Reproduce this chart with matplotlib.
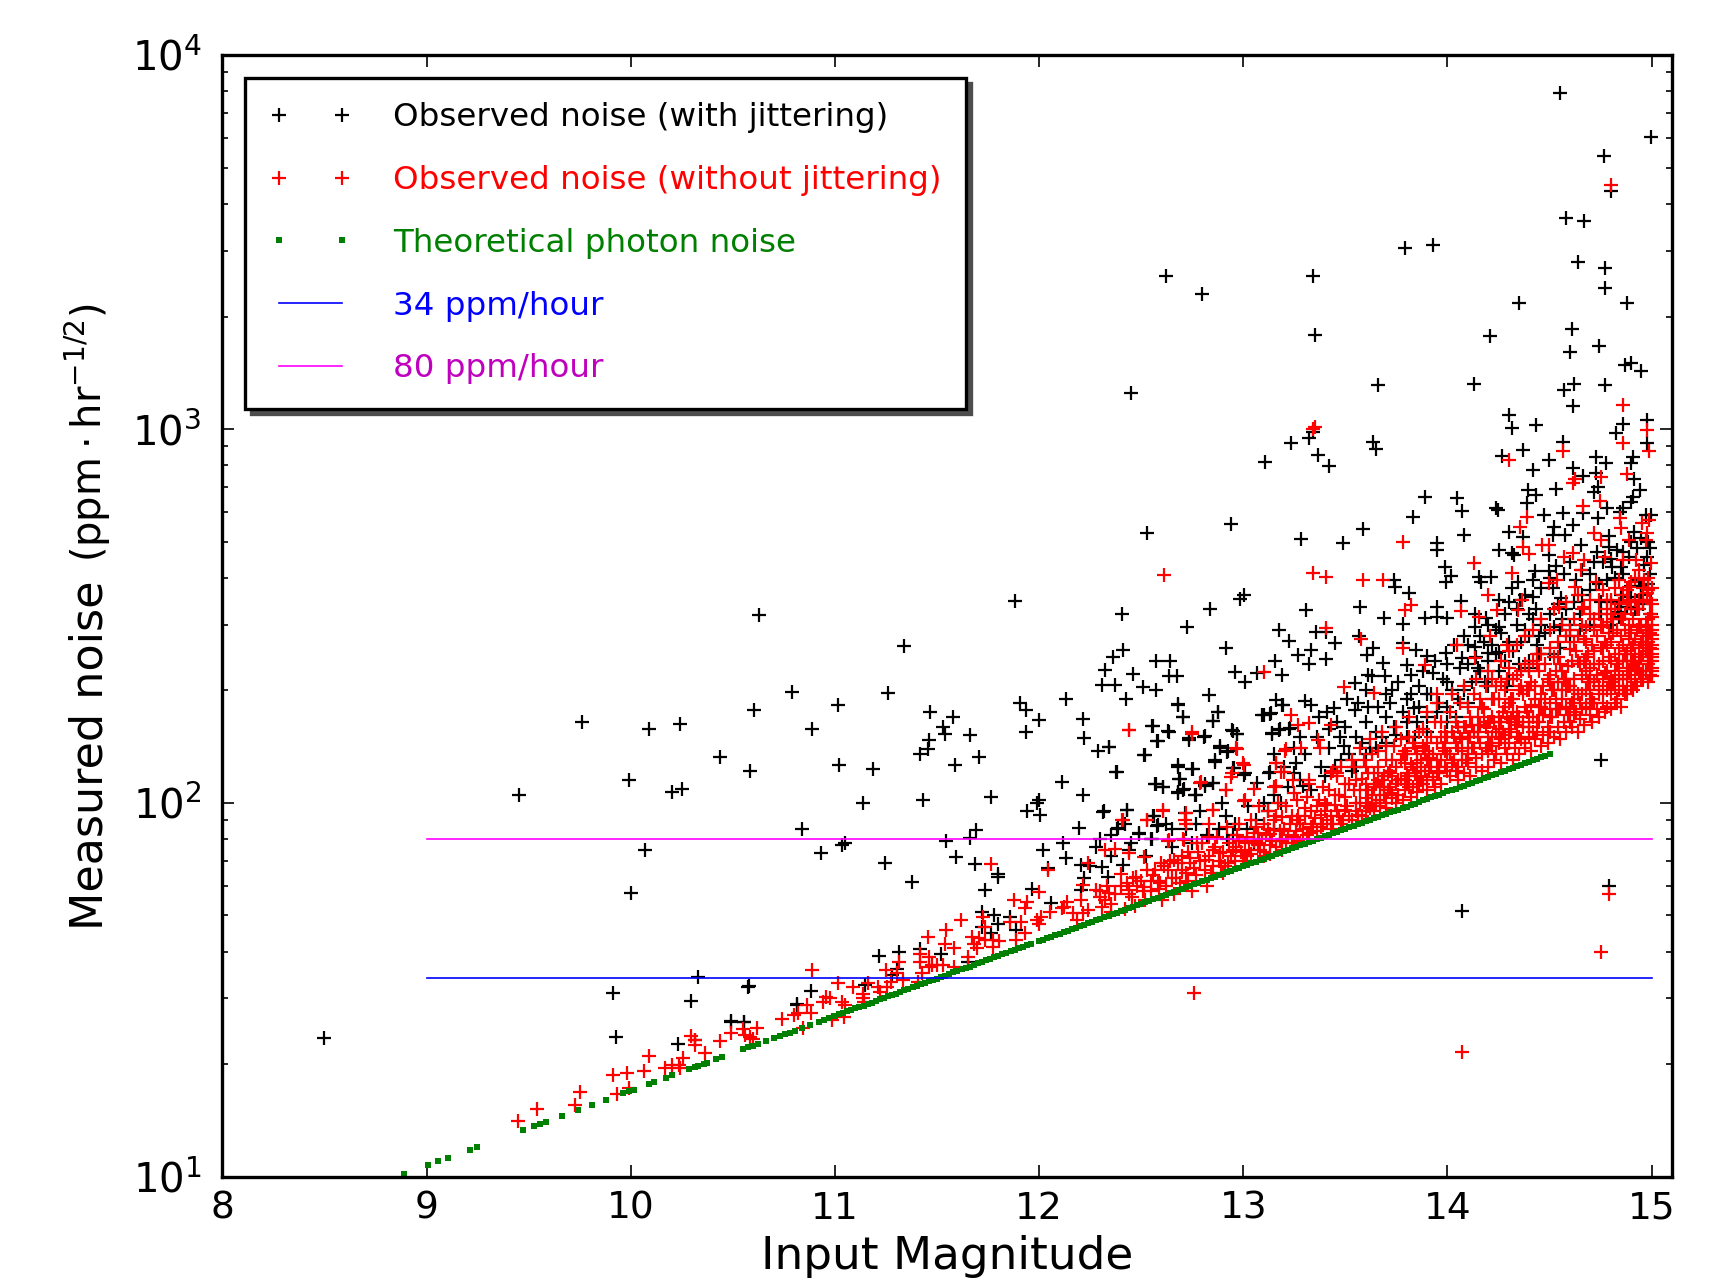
"""Measured noise against input magnitude, with and without jittering."""
import matplotlib
matplotlib.use("Agg")
import matplotlib.pyplot as plt
import numpy as np

# values as (magnitude, noise)
jitter_points = [
    (8.497, 23.5), (9.45, 105), (9.76, 165), (9.99, 115), (10.0, 57.5), (10.07, 75), (10.09, 158), (10.2, 107),
    (10.24, 163), (10.25, 109), (10.63, 318), (10.79, 198), (9.911, 31), (9.929, 23.6), (10.294, 29.5),
    (10.329, 34.3), (10.576, 32.2), (10.491, 26.1), (10.556, 26), (10.314, 23.2), (10.231, 22.6), (10.816, 28.8),
    (10.605, 177), (11.014, 183), (11.467, 175), (11.58, 170), (11.53, 160), (11.54, 153), (10.888, 158),
    (11.463, 147), (11.454, 139), (11.417, 135), (11.66, 152), (11.707, 133), (11.589, 126), (11.02, 126),
    (11.188, 123), (10.438, 133), (10.586, 122), (11.904, 185), (11.937, 177), (11.997, 167), (11.936, 155),
    (12.213, 168), (12.219, 149), (12.288, 138), (12.344, 141), (12.517, 134), (12.556, 161), (12.635, 155),
    (12.582, 146), (12.682, 183), (12.704, 170), (12.85, 166), (12.878, 175), (12.809, 150), (12.734, 147),
    (12.944, 157), (12.968, 153), (13.14, 153), (13.094, 172), (13.131, 173), (13.178, 158), (13.225, 158),
    (13.188, 183), (12.888, 140), (12.921, 137), (12.86, 129), (12.378, 121), (12.682, 125), (12.691, 116),
    (12.753, 123), (12.953, 124), (13.01, 120), (13.131, 121), (12.11, 113.5), (12.213, 105), (11.763, 103.5),
    (11.998, 102), (11.988, 100), (11.432, 102), (11.135, 100), (11.941, 95), (12.003, 92.7), (12.312, 94.6),
    (12.428, 95.7), (12.569, 112), (12.607, 110), (12.682, 106), (12.71, 109), (12.766, 105), (12.813, 111),
    (12.85, 113), (12.56, 92), (12.582, 87.3), (12.194, 85.5), (12.382, 85), (12.49, 82.8), (12.55, 80),
    (10.84, 85), (11.692, 84.5), (11.66, 80.4), (11.544, 79), (11.047, 78), (11.032, 77), (10.933, 73.6),
    (11.244, 69), (11.591, 71.7), (11.685, 68.6), (11.375, 61.5), (12.02, 74.8), (12.116, 78), (12.134, 71.4),
    (12.279, 76.4), (12.438, 74.8), (12.522, 72), (12.207, 68.2), (12.307, 67.5), (12.41, 68.3), (12.044, 66.8),
    (11.797, 64.7), (11.797, 63.4), (11.735, 58.5), (11.966, 59), (12.059, 54), (12.219, 62.8), (12.204, 58.5),
    (12.335, 63.4), (11.72, 51.2), (11.778, 50), (11.857, 49.6), (11.8, 47.4), (11.722, 46.7), (11.885, 45.7),
    (11.763, 44.8), (11.65, 37.6), (11.52, 39.4), (11.415, 40.6), (11.314, 40), (11.216, 38.9), (11.305, 36),
    (11.277, 34.6), (11.145, 32.6), (10.579, 32.4), (10.882, 31.3), (10.813, 29), (10.493, 25.9), (10.555, 25.9),
    (14.55, 7940), (14.998, 6050), (14.766, 5380), (14.8, 4330), (14.58, 3660), (14.67, 3600), (13.79, 3060),
    (13.93, 3100), (14.64, 2800), (14.77, 2690), (14.77, 2380), (14.88, 2170), (14.35, 2180), (13.34, 2570),
    (12.62, 2570), (12.8, 2300), (13.35, 1780), (14.21, 1770), (14.61, 1855), (14.6, 1610), (14.74, 1670),
    (14.87, 1480), (14.9, 1500), (14.95, 1430), (14.13, 1318), (14.62, 1318), (12.45, 1250), (13.66, 1310),
    (14.57, 1275), (14.77, 1310), (14.617, 1153), (14.07, 51.5), (14.79, 59.8), (14.753, 130),
    (13.235, 916), (13.32, 944), (13.367, 853), (13.421, 796), (13.104, 815), (13.635, 925), (13.648, 883),
    (14.3, 1091), (14.318, 1005), (14.436, 1026), (14.861, 1032), (14.979, 1057), (14.825, 975), (14.979, 916),
    (14.568, 925), (14.369, 879), (14.269, 847), (14.499, 826), (14.421, 778), (14.617, 785), (14.729, 841),
    (14.776, 811), (14.907, 844), (14.898, 811), (14.726, 765), (14.662, 747), (14.916, 735), (14.735, 699),
    (14.717, 680), (14.532, 692), (14.943, 687), (14.394, 687), (14.436, 666), (14.39, 634), (14.907, 659),
    (14.898, 640), (14.861, 614), (14.843, 601), (14.78, 614), (14.97, 589), (14.997, 589), (14.735, 577),
    (14.568, 595), (14.662, 595), (14.472, 589), (14.24, 614), (14.247, 608), (14.046, 653), (14.07, 605),
    (13.892, 659), (13.832, 581), (13.584, 539), (13.49, 495), (13.285, 508), (12.941, 557), (12.53, 526),
    (14.303, 529), (14.079, 521), (14.372, 514), (14.523, 548), (14.517, 521), (14.617, 555), (14.577, 521),
    (14.789, 516), (14.916, 532), (13.947, 495), (13.947, 476), (14.251, 476), (14.318, 465), (14.327, 460),
    (14.499, 460), (14.653, 490), (14.789, 485), (14.889, 456), (14.979, 456), (14.717, 442), (14.807, 428),
    (14.852, 428), (14.961, 433), (14.427, 416), (14.495, 416), (13.986, 428), (14.019, 404), (13.992, 391),
    (14.155, 403), (14.215, 403), (14.164, 391), (13.738, 395), (13.742, 379), (14.345, 391), (14.318, 375),
    (14.517, 375), (13.004, 360), (12.986, 352), (13.811, 365), (14.254, 349), (14.354, 349), (14.421, 356),
    (14.554, 353), (14.064, 346), (14.997, 349), (12.407, 320), (12.836, 330), (13.309, 328), (13.57, 335),
    (13.95, 334), (14.137, 321), (14.191, 312), (14.399, 321), (14.436, 330), (14.834, 325), (14.997, 321),
    (12.724, 296), (13.687, 312), (13.892, 313), (13.947, 314), (13.997, 313), (13.783, 301), (14.137, 296),
    (14.254, 295), (13.173, 290), (13.222, 271), (13.403, 287), (13.358, 287), (13.566, 280), (13.448, 267),
    (12.914, 259), (12.41, 257), (12.361, 245), (13.334, 257), (13.267, 248), (13.407, 242), (13.322, 235),
    (13.783, 267), (13.633, 259), (13.606, 249), (13.847, 256), (13.901, 247), (13.992, 251), (14.073, 244),
    (14.137, 262), (14.2, 251), (14.254, 254), (12.57, 239), (12.642, 239), (13.153, 239), (13.684, 237),
    (13.802, 234), (12.325, 227), (12.461, 221), (12.637, 219), (12.673, 219), (12.959, 224), (13.008, 211),
    (13.189, 220), (13.068, 222), (13.611, 220), (13.63, 218), (13.693, 218), (13.82, 220), (13.928, 222),
    (14.0, 211), (14.182, 211), (14.291, 205), (12.307, 207), (12.374, 207), (12.51, 204), (12.57, 201),
    (13.548, 209), (13.729, 200), (13.82, 196), (13.901, 196), (12.832, 194), (12.425, 190), (13.508, 190),
    (12.682, 184), (13.158, 188), (13.195, 183), (13.303, 187), (13.331, 183), (13.611, 181), (13.443, 179),
    (13.548, 177), (13.838, 179), (12.878, 175), (12.706, 170), (12.851, 166), (13.099, 172), (13.135, 174),
    (13.37, 170), (12.555, 161), (12.633, 156), (13.177, 157), (13.231, 159), (13.14, 154), (12.95, 156),
    (12.968, 153), (12.811, 151), (12.733, 149), (12.579, 146), (12.343, 141), (12.887, 142), (12.923, 138),
    (13.421, 158), (13.476, 150), (13.494, 142), (12.515, 134), (12.86, 130), (13.258, 128), (12.678, 126),
    (12.751, 123), (12.687, 116), (12.38, 121), (12.95, 124), (13.005, 119), (13.128, 120), (13.249, 120),
    (13.53, 122), (13.068, 113), (12.57, 112), (12.606, 110), (12.678, 107), (12.706, 108), (12.765, 105),
    (12.814, 112), (12.851, 113), (13.294, 111), (12.32, 95), (12.428, 96), (12.787, 95), (12.914, 92),
    (12.715, 94), (12.561, 92), (12.579, 87), (12.385, 85.5), (12.488, 83), (12.552, 80), (12.896, 100),
    (13.023, 98), (13.186, 100), (11.26, 197), (11.34, 263), (11.88, 347), (12.13, 190), (13.34, 985),
]

jitter_band_points = [
    (13.65, 140), (13.7, 170), (13.75, 152), (13.85, 165), (13.95, 175), (14.05, 190), (14.15, 230), (14.25, 225),
    (14.35, 235), (14.45, 250), (14.55, 290), (14.65, 320), (14.75, 345), (14.85, 360), (14.95, 380), (14.99, 410),
    (13.2, 125), (13.3, 135), (13.38, 125), (13.42, 140), (13.48, 130), (13.55, 150), (13.6, 165), (13.65, 155),
    (13.72, 185), (13.78, 175), (13.86, 205), (13.92, 195), (13.98, 215), (14.02, 200), (14.06, 230), (14.1, 235),
    (14.14, 245), (14.18, 270), (14.22, 265), (14.26, 285), (14.3, 270), (14.34, 300), (14.38, 290), (14.42, 310),
    (14.46, 300), (14.5, 320), (14.54, 340), (14.58, 330), (14.62, 345), (14.66, 360), (14.7, 370), (14.74, 385),
    (14.78, 395), (14.82, 400), (14.86, 410), (14.9, 380), (14.94, 395), (14.98, 385), (14.96, 340), (14.92, 330),
    (14.88, 335), (14.84, 315), (14.8, 300), (13.1, 100), (13.15, 105), (13.22, 110), (13.28, 115), (13.33, 108),
    (13.4, 118), (13.45, 125), (13.52, 135), (13.58, 145), (13.62, 140), (13.68, 150), (13.74, 160), (13.8, 165),
    (13.84, 150), (13.9, 170), (13.96, 185), (14.0, 180), (14.04, 170), (14.08, 200), (14.12, 210), (14.16, 225),
    (14.2, 240), (14.24, 250), (14.28, 240), (14.32, 255), (14.36, 270), (14.4, 280), (14.44, 265), (14.48, 285),
    (14.52, 295), (14.56, 310), (14.6, 300), (12.3, 80), (12.35, 82), (12.42, 88), (12.62, 88), (12.65, 85),
    (12.72, 85), (12.77, 88), (12.82, 82), (12.88, 85), (12.92, 80), (12.96, 88), (13.02, 85), (13.06, 90),
    (13.12, 95),
    (13.15, 135), (13.25, 140), (13.28, 150), (13.36, 150), (13.41, 175), (13.46, 165), (13.5, 160), (13.56, 185),
    (13.6, 200), (13.66, 180), (13.7, 195), (13.76, 210), (13.8, 190), (13.86, 180), (13.88, 225), (13.94, 240),
    (14.0, 235), (14.03, 265), (14.08, 280), (14.1, 265), (14.16, 280), (14.2, 300), (14.24, 290), (14.28, 320),
    (14.3, 345), (14.34, 330), (14.38, 360), (14.42, 395), (14.46, 375), (14.5, 400), (14.53, 430), (14.57, 410),
    (14.6, 440), (14.63, 395), (14.66, 420), (14.7, 410), (14.73, 470), (14.76, 440), (14.8, 450), (14.83, 475),
    (14.86, 470), (14.9, 500), (14.93, 480), (14.95, 510), (14.98, 500), (14.99, 480), (14.4, 230), (14.45, 280),
    (14.5, 250), (14.55, 260), (14.6, 280), (14.65, 290), (14.7, 300), (14.75, 320), (14.8, 345), (14.85, 335),
    (14.9, 355), (14.95, 360), (13.55, 125), (13.6, 135), (13.7, 145), (13.8, 150), (13.9, 155), (14.0, 165),
    (14.1, 185), (14.2, 205), (14.3, 215), (14.4, 240), (12.95, 82), (13.05, 78), (13.15, 85), (12.75, 78),
    (12.65, 76), (12.45, 78), (12.35, 72), (12.25, 68),
]

no_jitter_points = [
    (14.8, 4500), (13.34, 1000), (13.35, 1010), (14.861, 1161), (14.976, 995), (14.861, 920), (14.988, 871),
    (14.566, 871), (14.3, 829), (14.88, 759), (14.753, 746), (14.626, 734), (14.613, 716), (14.662, 622),
    (14.749, 642), (14.39, 581), (14.354, 548), (14.843, 577), (14.852, 543), (14.952, 562), (14.988, 571),
    (14.976, 526), (14.97, 505), (14.717, 526), (14.753, 505), (14.889, 505), (13.784, 500), (14.372, 485),
    (14.399, 464), (14.463, 490), (14.499, 490), (14.572, 456), (14.617, 466), (14.671, 447), (14.653, 420),
    (14.771, 456), (14.861, 447), (14.925, 447), (14.997, 438), (14.131, 438), (12.61, 407), (13.343, 411),
    (13.403, 402), (13.584, 394), (13.684, 394), (14.318, 413), (14.2, 360), (14.535, 394), (14.499, 387),
    (14.626, 379), (14.726, 391), (14.889, 379), (14.961, 394), (13.82, 339), (13.793, 328), (14.064, 327),
    (14.363, 349), (14.245, 328), (14.345, 328), (14.155, 315), (14.544, 335), (14.671, 335), (14.78, 349),
    (14.889, 349), (14.979, 364), (13.403, 293), (13.575, 275), (13.783, 259), (14.046, 265), (14.137, 244),
    (14.209, 279), (14.291, 265), (13.099, 224), (13.494, 204), (13.639, 197), (13.892, 234), (13.95, 195),
    (12.439, 157), (13.236, 172), (12.751, 155), (12.968, 139), (13.209, 139), (13.285, 140), (13.367, 147),
    (13.376, 140), (13.322, 164), (13.267, 162), (13.43, 162), (13.158, 128), (13.005, 126), (12.941, 117),
    (12.914, 108), (13.186, 121), (12.787, 113), (13.05, 109), (13.158, 111), (13.322, 115), (13.439, 122),
    (13.457, 120), (12.851, 96), (12.715, 90), (12.606, 95), (12.53, 90), (12.407, 90), (13.005, 101),
    (13.077, 98), (12.633, 79), (12.706, 80), (12.76, 31), (14.07, 21.5), (14.79, 57), (14.75, 40),
    (9.449, 14.1), (9.539, 15.2), (9.727, 15.6), (9.752, 16.8), (9.932, 16.6), (9.989, 17.3), (9.912, 18.7),
    (9.979, 19), (10.066, 19.2), (10.089, 21), (10.166, 19.5), (10.204, 19.9), (10.234, 19.9), (10.239, 19.5),
    (10.254, 20.8), (10.294, 23.8), (10.316, 23.2), (10.314, 22.5), (10.361, 21.4), (10.436, 23), (10.489, 24.2),
    (10.551, 24.8), (10.559, 23.9), (10.584, 23.6), (10.597, 23.4), (10.619, 25), (10.742, 26.4), (10.798, 27),
    (10.817, 27.4), (10.882, 27.4), (10.864, 28.8), (10.841, 25), (10.986, 26.2), (11.042, 26.8), (10.888, 35.7),
    (11.014, 33), (11.089, 32.2), (10.957, 30.3), (10.939, 29.4), (10.976, 30), (11.032, 29.4), (11.047, 28.8),
    (11.135, 30.9), (11.135, 30), (11.141, 29.4), (11.164, 32.9), (11.21, 32.2), (11.22, 31.2), (11.257, 32.2),
    (11.248, 35.8), (11.313, 37.6), (11.304, 35), (11.276, 33.2), (11.332, 33.6), (11.417, 39.5), (11.417, 37.6),
    (11.463, 38.7), (11.426, 35), (11.407, 33.2), (11.473, 36.8), (11.501, 36.8), (11.529, 36.8), (11.463, 36.5),
    (11.458, 43.7), (11.544, 45.8), (11.538, 41.9), (11.585, 40.8), (11.585, 36.5), (11.619, 48.5), (11.651, 38.7),
    (11.679, 42), (11.67, 43.9), (11.707, 43.4), (11.735, 42.9), (11.773, 42.9), (11.801, 42.8), (11.773, 41.2),
    (11.698, 40.8), (11.735, 46.7), (11.726, 49.6), (11.763, 68.6), (11.876, 55), (11.857, 48), (11.941, 54.3),
    (11.932, 52.3), (11.913, 48), (11.932, 44.8), (11.885, 42.9), (11.998, 57.8), (11.988, 48.5), (12.007, 49.5),
    (11.998, 47.5), (12.054, 51.2), (12.044, 66), (12.11, 52.2), (12.138, 54.3), (12.12, 52.7), (12.166, 50.6),
    (12.185, 48.5), (12.213, 50.6), (12.241, 51.6), (12.204, 55), (12.213, 60.3), (12.241, 68.9), (12.279, 58.5),
    (12.297, 56.1), (12.325, 55), (12.344, 57.3), (12.307, 52.7), (12.354, 53.8), (12.325, 74.8), (12.372, 75.5),
    (12.438, 73.3), (12.513, 71.8), (12.41, 90), (12.438, 157), (12.528, 90), (12.606, 95.7), (12.747, 153),
    (12.794, 114), (12.4, 64.7), (12.438, 58.5), (12.475, 63.4), (12.513, 59.7), (12.55, 62), (12.588, 59),
    (12.457, 56.1), (12.597, 68.9), (12.569, 66), (12.635, 79.4), (12.71, 79.4), (12.663, 70.3), (12.7, 66),
    (12.738, 68.9), (12.728, 62), (12.813, 70.3), (12.85, 74.8), (12.888, 73.3), (12.925, 68.9), (12.775, 78),
    (12.831, 81), (12.963, 76.4), (13.019, 81), (13.075, 78), (13.131, 82.8), (13.188, 91.8), (13.263, 90),
    (13.15, 84.5), (12.719, 93.8), (12.719, 88), (12.85, 95.7), (12.831, 88), (12.944, 120), (12.916, 108),
    (13.01, 101.6), (13.0, 127.6), (13.159, 127.6), (13.197, 121), (13.206, 138), (12.963, 140), (13.263, 101.6),
    (13.244, 115), (13.15, 110), (12.98, 88), (13.05, 83), (13.1, 72), (13.01, 70), (12.9, 65), (12.82, 60),
    (12.75, 58), (12.66, 57), (12.6, 55), (12.52, 55), (12.47, 53), (12.42, 52), (12.35, 51),
]

no_jitter_band_points = [
    (13.08, 75), (13.11, 82), (13.13, 77), (13.06, 86), (13.15, 90), (13.18, 79), (13.12, 95), (13.2, 85),
    (13.22, 82), (13.17, 100), (13.24, 92), (13.26, 84), (13.25, 106), (13.28, 88), (13.3, 97), (13.31, 82),
    (13.33, 86), (13.35, 91), (13.32, 112), (13.37, 102), (13.38, 86), (13.4, 95), (13.41, 90), (13.42, 108),
    (13.43, 85), (13.45, 99), (13.46, 118), (13.47, 92), (13.48, 88), (13.5, 104), (13.5, 96), (13.52, 112),
    (13.53, 90), (13.54, 125), (13.55, 100), (13.56, 93), (13.57, 108), (13.58, 116), (13.59, 130), (13.6, 95),
    (13.6, 103), (13.61, 120), (13.62, 97), (13.63, 135), (13.64, 110), (13.65, 100), (13.66, 125), (13.67, 98),
    (13.68, 115), (13.69, 105), (13.7, 100), (13.7, 130), (13.71, 120), (13.72, 110), (13.73, 103), (13.74, 142),
    (13.75, 125), (13.76, 105), (13.77, 116), (13.78, 135), (13.79, 108), (13.8, 120), (13.8, 112), (13.81, 150),
    (13.82, 127), (13.83, 110), (13.84, 140), (13.85, 118), (13.86, 112), (13.87, 130), (13.88, 158), (13.89, 122),
    (13.9, 115), (13.9, 145), (13.91, 135), (13.92, 125), (13.93, 117), (13.94, 165), (13.95, 130), (13.96, 120),
    (13.97, 150), (13.98, 140), (13.99, 125), (14.0, 122), (14.0, 135), (14.01, 175), (14.02, 155), (14.03, 130),
    (14.04, 145), (14.05, 125), (14.06, 185), (14.07, 138), (14.08, 160), (14.09, 130), (14.1, 150), (14.1, 128),
    (14.11, 170), (14.12, 140), (14.13, 195), (14.14, 132), (14.15, 155), (14.16, 145), (14.17, 135), (14.18, 178),
    (14.19, 205), (14.2, 150), (14.2, 138), (14.21, 165), (14.22, 142), (14.23, 190), (14.24, 135), (14.25, 158),
    (14.26, 148), (14.27, 175), (14.28, 140), (14.29, 215), (14.3, 165), (14.3, 145), (14.31, 155), (14.32, 190),
    (14.33, 140), (14.34, 175), (14.35, 150), (14.36, 225), (14.37, 160), (14.38, 145), (14.39, 200), (14.4, 170),
    (14.4, 150), (14.41, 183), (14.42, 155), (14.43, 148), (14.44, 235), (14.45, 165), (14.46, 195), (14.47, 152),
    (14.48, 178), (14.49, 160), (14.5, 210), (14.5, 155), (14.51, 170), (14.52, 245), (14.53, 190), (14.54, 160),
    (14.55, 178), (14.56, 225), (14.57, 165), (14.58, 200), (14.59, 172), (14.6, 258), (14.6, 165), (14.61, 185),
    (14.62, 215), (14.63, 175), (14.64, 240), (14.65, 168), (14.66, 195), (14.67, 275), (14.68, 180), (14.69, 210),
    (14.7, 172), (14.7, 230), (14.71, 190), (14.72, 255), (14.73, 178), (14.74, 205), (14.75, 295), (14.76, 185),
    (14.77, 222), (14.78, 180), (14.79, 245), (14.8, 195), (14.8, 270), (14.81, 210), (14.82, 185), (14.83, 235),
    (14.84, 200), (14.85, 310), (14.86, 215), (14.87, 195), (14.88, 255), (14.89, 225), (14.9, 205), (14.9, 285),
    (14.91, 240), (14.92, 210), (14.93, 330), (14.94, 225), (14.95, 270), (14.95, 215), (14.96, 250), (14.97, 300),
    (14.97, 225), (14.98, 235), (14.98, 270), (14.99, 220), (14.99, 350), (15.0, 245), (15.0, 290), (15.0, 265),
    (15.0, 315), (15.0, 230), (14.82, 225), (14.84, 260), (14.86, 240), (14.87, 290), (14.88, 215), (14.9, 240),
    (14.91, 265), (14.92, 250), (14.93, 228), (14.94, 295), (14.95, 245), (14.96, 280), (14.97, 255), (14.98, 310),
    (14.99, 240), (14.99, 285), (15.0, 250), (15.0, 275), (14.72, 210), (14.74, 235), (14.76, 200), (14.78, 265),
    (14.7, 200), (14.66, 220), (14.62, 190), (14.58, 180), (14.54, 210), (14.5, 185), (14.45, 180), (14.4, 200),
    (14.35, 170), (14.3, 185), (14.25, 170), (14.2, 165), (14.15, 170), (14.1, 140), (14.05, 160), (14.0, 150),
    (13.95, 145), (13.9, 130), (13.85, 128), (13.8, 135),
    (12.43, 61), (12.46, 63), (12.5, 62), (12.53, 66), (12.56, 64), (12.58, 62), (12.61, 68), (12.63, 66),
    (12.65, 63), (12.68, 69), (12.7, 72), (12.72, 65), (12.74, 71), (12.76, 67), (12.78, 74), (12.79, 70),
    (12.81, 66), (12.83, 72), (12.85, 68), (12.86, 76), (12.88, 70), (12.9, 74), (12.91, 68), (12.93, 78),
    (12.94, 72), (12.96, 70), (12.97, 82), (12.99, 74), (13.0, 72), (13.01, 78), (13.03, 75), (13.04, 73),
    (13.05, 79), (13.07, 77), (13.09, 80), (13.1, 74), (13.12, 85), (13.14, 79), (13.16, 76), (13.18, 84),
    (13.19, 80), (13.21, 78), (13.23, 88), (13.25, 81), (13.27, 79), (13.29, 85), (13.3, 92), (13.32, 83),
    (13.34, 88), (13.36, 84), (13.38, 93), (13.39, 88), (13.41, 99), (13.43, 92), (13.44, 88), (13.46, 95),
    (13.47, 105), (13.49, 90), (13.51, 98), (13.52, 92), (13.54, 108), (13.55, 95), (13.57, 100), (13.58, 92),
    (13.6, 112), (13.61, 98), (13.63, 105), (13.64, 95), (13.66, 115), (13.67, 102), (13.69, 110), (13.7, 97),
    (13.72, 122), (13.73, 106), (13.75, 100), (13.76, 115), (13.78, 102), (13.79, 128), (13.81, 110), (13.82, 104),
    (13.84, 120), (13.85, 107), (13.87, 125), (13.88, 112), (13.9, 108), (13.91, 132), (13.93, 115), (13.94, 110),
    (13.96, 125), (13.97, 112), (13.99, 138), (14.01, 118), (14.02, 128), (14.04, 122), (14.05, 115), (14.07, 148),
    (14.08, 120), (14.1, 135), (14.11, 118), (14.13, 155), (14.14, 125), (14.16, 162), (14.17, 122), (14.19, 140),
    (14.2, 125), (14.22, 170), (14.23, 130), (14.25, 145), (14.26, 128), (14.28, 180), (14.29, 135), (14.31, 168),
    (14.32, 130), (14.34, 150), (14.35, 135), (14.37, 195), (14.38, 140), (14.4, 160), (14.41, 138), (14.43, 205),
    (14.44, 155), (14.46, 142), (14.47, 172), (14.49, 145), (14.5, 220), (14.52, 150), (14.53, 178), (14.55, 148),
    (14.56, 200), (14.58, 155), (14.59, 232), (14.61, 160), (14.62, 200), (14.64, 155), (14.65, 185), (14.67, 162),
    (14.68, 245), (14.7, 185), (14.71, 165), (14.73, 220), (14.74, 170), (14.76, 260), (14.77, 175), (14.79, 210),
    (14.8, 178), (14.81, 285), (14.83, 190), (14.84, 215), (14.85, 180), (14.87, 250), (14.88, 195), (14.89, 275),
    (14.91, 200), (14.92, 235), (14.93, 205), (14.94, 350), (14.96, 215), (14.97, 270), (14.98, 210), (14.99, 320),
    (15.0, 218), (15.0, 300), (15.0, 240),
    (14.22, 150), (14.24, 155), (14.26, 165), (14.28, 152), (14.3, 158), (14.32, 175), (14.34, 162), (14.36, 148),
    (14.38, 180), (14.4, 160), (14.42, 170), (14.44, 165), (14.46, 180), (14.48, 190), (14.5, 170), (14.52, 200),
    (14.54, 178), (14.56, 190), (14.58, 215), (14.6, 180), (14.6, 205), (14.62, 172), (14.64, 195), (14.66, 178),
    (14.68, 200), (14.68, 225), (14.7, 215), (14.72, 185), (14.72, 235), (14.74, 195), (14.76, 215), (14.76, 240),
    (14.78, 200), (14.78, 225), (14.8, 215), (14.8, 240), (14.82, 205), (14.82, 250), (14.84, 220), (14.84, 240),
    (14.86, 200), (14.86, 265), (14.88, 230), (14.88, 240), (14.9, 220), (14.9, 260), (14.92, 230), (14.92, 275),
    (14.94, 240), (14.94, 260), (14.96, 225), (14.96, 265), (14.98, 250), (14.98, 290), (15.0, 225), (15.0, 258),
    (15.0, 282), (14.99, 260), (14.97, 285), (14.95, 300), (14.93, 290), (14.91, 310), (14.89, 300), (14.87, 320),
    (14.85, 280), (14.83, 290), (14.81, 310), (14.79, 285), (14.77, 270), (14.75, 260), (14.73, 280), (14.71, 265),
    (14.69, 250), (14.67, 240), (14.65, 235), (14.63, 255), (14.61, 240), (14.59, 205), (14.57, 215), (14.55, 235),
    (14.53, 225), (14.51, 200), (14.49, 215), (14.47, 205), (14.45, 225), (14.43, 190), (14.41, 210), (14.39, 175),
    (14.37, 165), (14.35, 200), (14.33, 165), (14.31, 190), (14.29, 170), (14.27, 155), (14.25, 190), (14.23, 165),
    (14.21, 145), (14.19, 160), (14.17, 180), (14.15, 150), (14.13, 140), (14.11, 150), (14.09, 160), (14.07, 130),
    (14.05, 140), (14.03, 150), (14.01, 135), (13.99, 145), (13.97, 130), (13.95, 120), (13.93, 135), (13.91, 122),
    (13.89, 138), (13.87, 115), (13.85, 135), (13.83, 125), (13.81, 118), (13.79, 115), (13.77, 130), (13.75, 112),
    (13.73, 118), (13.71, 108), (13.69, 118), (13.67, 110), (13.65, 112), (13.63, 100), (13.61, 108),
    (14.62, 310), (14.66, 330), (14.7, 320), (14.74, 350), (14.78, 330), (14.82, 375), (14.86, 360), (14.9, 390),
    (14.94, 420), (14.98, 400), (14.96, 375), (14.92, 350), (14.88, 345), (14.84, 340), (14.8, 320), (14.76, 300),
    (14.72, 310), (14.68, 295), (14.64, 280), (14.58, 280), (14.54, 270), (14.5, 260), (14.46, 250), (14.42, 240),
    (14.38, 235), (14.34, 220), (14.3, 230), (14.26, 210), (14.22, 215),
    (12.3, 58), (12.33, 60), (12.37, 57), (12.4, 60), (12.44, 57), (12.48, 60), (12.51, 58), (12.55, 58),
    (12.59, 61), (12.62, 60), (12.64, 70), (12.67, 63), (12.69, 61), (12.73, 74), (12.77, 64), (12.8, 78),
    (12.84, 65), (12.87, 81), (12.89, 68), (12.92, 86), (12.95, 75), (12.98, 79), (13.02, 72), (13.04, 90),
    (13.07, 83), (13.1, 88), (13.13, 73), (13.16, 92), (13.19, 75), (13.21, 98), (13.24, 78), (13.27, 92),
    (13.29, 80), (13.31, 104), (13.33, 95), (13.36, 98), (13.39, 110), (13.4, 100), (13.43, 120), (13.45, 105),
    (13.48, 125), (13.5, 112), (13.53, 130), (13.55, 115), (13.57, 140), (13.6, 125), (13.62, 148), (13.64, 120),
    (13.66, 138), (13.68, 155), (13.7, 142), (13.73, 130), (13.75, 160), (13.77, 148), (13.79, 138), (13.81, 170),
    (13.83, 145), (13.86, 155), (13.88, 142), (13.9, 175), (13.92, 150), (13.95, 185), (13.97, 165), (13.99, 155),
    (14.02, 195), (14.04, 165), (14.06, 150), (14.08, 205), (14.1, 180), (14.12, 162), (14.14, 215), (14.16, 190),
    (14.18, 165), (14.2, 225), (14.22, 190), (14.24, 205), (14.26, 240), (14.28, 200), (14.3, 255), (14.32, 215),
    (14.34, 265), (14.36, 205), (14.38, 280), (14.4, 225), (14.42, 290), (14.44, 250), (14.46, 310), (14.48, 235),
    (14.5, 290), (14.52, 330), (14.54, 245), (14.56, 300), (14.58, 345), (14.6, 290), (14.62, 270), (14.64, 360),
    (14.66, 300), (14.68, 270), (14.7, 350), (14.72, 290), (14.74, 320), (14.76, 370), (14.78, 305), (14.8, 350),
    (14.82, 330), (14.84, 395), (14.86, 310), (14.88, 370), (14.9, 330), (14.92, 400), (14.94, 330), (14.96, 345),
    (14.98, 370), (15.0, 340), (15.0, 375),
]

theory_mag = [
    8.887, 9.005, 9.055, 9.104, 9.21, 9.247, 9.472, 9.527, 9.554, 9.584, 9.662, 9.739, 9.809, 9.879, 9.964, 9.989,
    10.014, 10.089, 10.114, 10.172, 10.204, 10.284, 10.314, 10.329, 10.359, 10.374, 10.417, 10.447,
    10.55, 10.575, 10.60, 10.625, 10.66, 10.70, 10.73, 10.755, 10.78, 10.805, 10.84, 10.88, 10.92, 10.945, 10.97,
    11.0, 11.02, 11.04, 11.06, 11.08, 11.10, 11.12, 11.14, 11.16, 11.18, 11.20, 11.22, 11.24, 11.26, 11.28, 11.30,
    11.32, 11.34, 11.36, 11.38, 11.40, 11.42, 11.44, 11.46, 11.48, 11.50, 11.52, 11.54, 11.56, 11.58, 11.60, 11.62,
    11.64, 11.66, 11.68, 11.70, 11.72, 11.74, 11.76, 11.78, 11.80, 11.82, 11.84, 11.86, 11.88, 11.90, 11.92, 11.94,
    11.96,
    12.00, 12.02, 12.04, 12.06, 12.08, 12.10, 12.12, 12.14, 12.16, 12.18,
    12.20, 12.22, 12.24, 12.26, 12.28, 12.30, 12.32, 12.34, 12.36, 12.38,
    12.40, 12.42, 12.44, 12.46, 12.48, 12.50, 12.52, 12.54, 12.56, 12.58,
    12.60, 12.62, 12.64, 12.66, 12.68, 12.70, 12.72, 12.74, 12.76, 12.78,
    12.80, 12.82, 12.84, 12.86, 12.88, 12.90, 12.92, 12.94, 12.96, 12.98,
    13.00, 13.02, 13.04, 13.06, 13.08, 13.10, 13.12, 13.14, 13.16, 13.18,
    13.20, 13.22, 13.24, 13.26, 13.28, 13.30, 13.32, 13.34, 13.36, 13.38,
    13.40, 13.42, 13.44, 13.46, 13.48, 13.50, 13.52, 13.54, 13.56, 13.58,
    13.60, 13.62, 13.64, 13.66, 13.68, 13.70, 13.72, 13.74, 13.76, 13.78,
    13.80, 13.82, 13.84, 13.86, 13.88, 13.90, 13.92, 13.94, 13.96, 13.98,
    14.00, 14.02, 14.04, 14.06, 14.08, 14.10, 14.12, 14.14, 14.16, 14.18,
    14.20, 14.22, 14.24, 14.26, 14.28, 14.30, 14.32, 14.34, 14.36, 14.38,
    14.40, 14.42, 14.44, 14.46, 14.48, 14.50,
]
theory_noise = [
    10.18, 10.75, 11.0, 11.25, 11.8, 12.0, 13.3, 13.67, 13.84, 14.04, 14.55, 15.08, 15.58, 16.08, 16.72, 16.91,
    17.1, 17.7, 17.9, 18.4, 18.7, 19.4, 19.65, 19.8, 20.06, 20.2, 20.6, 20.9,
    21.9, 22.2, 22.4, 22.7, 23.0, 23.5, 23.8, 24.1, 24.3, 24.6, 25.0, 25.5, 26.0, 26.3, 26.6,
    26.9, 27.2, 27.4, 27.7, 27.9, 28.2, 28.4, 28.7, 29.0, 29.2, 29.5, 29.8, 30.1, 30.4, 30.6, 30.9,
    31.2, 31.5, 31.8, 32.1, 32.4, 32.7, 33.0, 33.3, 33.6, 33.9, 34.2, 34.5, 34.9, 35.2, 35.5, 35.9,
    36.2, 36.5, 36.9, 37.2, 37.6, 37.9, 38.3, 38.6, 39.0, 39.4, 39.7, 40.1, 40.5, 40.9, 41.2, 41.6,
    42.0,
    42.7, 43.1, 43.5, 43.9, 44.3, 44.7, 45.1, 45.5, 46.0, 46.4,
    46.8, 47.2, 47.7, 48.1, 48.6, 49.0, 49.5, 49.9, 50.4, 50.9,
    51.3, 51.8, 52.3, 52.8, 53.3, 53.8, 54.3, 54.8, 55.3, 55.8,
    56.3, 56.8, 57.3, 57.8, 58.4, 58.9, 59.5, 60.0, 60.6, 61.1,
    61.7, 62.3, 62.9, 63.4, 64.0, 64.6, 65.2, 65.8, 66.4, 67.0,
    67.7, 68.3, 68.9, 69.6, 70.2, 70.9, 71.5, 72.2, 72.9, 73.5,
    74.2, 74.9, 75.6, 76.3, 77.0, 77.7, 78.4, 79.2, 79.9, 80.6,
    81.4, 82.1, 82.9, 83.7, 84.4, 85.2, 86.0, 86.8, 87.6, 88.4,
    89.2, 90.0, 90.9, 91.7, 92.6, 93.4, 94.3, 95.2, 96.0, 96.9,
    97.8, 98.7, 99.6, 100.6, 101.5, 102.4, 103.4, 104.3, 105.3, 106.3,
    107.3, 108.2, 109.2, 110.3, 111.3, 112.3, 113.3, 114.4, 115.5, 116.5,
    117.6, 118.7, 119.8, 120.9, 122.0, 123.2, 124.3, 125.5, 126.6, 127.8,
    129.0, 130.2, 131.4, 132.6, 133.8, 135.1,
]

line_mag = [9, 15]
level_34 = [34, 34]
level_80 = [80, 80]
x_ticks = [8, 9, 10, 11, 12, 13, 14, 15]

if __name__ == "__main__":
    plt.rcParams["mathtext.default"] = "regular"
    figure = plt.figure(figsize=(8.65, 6.44), dpi=200)
    axis = figure.add_axes([0.1286, 0.0864, 0.8379, 0.8707])

    jitter_mag, jitter_noise = np.array(jitter_points + jitter_band_points).T
    plain_mag, plain_noise = np.array(no_jitter_points + no_jitter_band_points).T

    axis.semilogy(jitter_mag, jitter_noise, "k+", ms=4.8, mew=0.8, label="Observed noise (with jittering)")
    axis.semilogy(plain_mag, plain_noise, "r+", ms=4.8, mew=0.8, label="Observed noise (without jittering)")
    axis.semilogy(theory_mag, theory_noise, ls="none", marker="s", color="g", ms=2, mew=0,
                  label="Theoretical photon noise")
    axis.semilogy(line_mag, level_34, color="b", lw=0.6, label="34 ppm/hour")
    axis.semilogy(line_mag, level_80, color="#ff00ff", lw=0.6, label="80 ppm/hour")

    axis.set_xlim(8, 15.1)
    axis.set_ylim(10, 1e4)
    axis.set_xticks(x_ticks)
    axis.tick_params(which="major", direction="in", top=True, right=True, length=4.2, width=0.6,
                     labelsize=13.5, pad=5)
    axis.tick_params(axis="y", which="major", labelsize=14.5, pad=7.5)
    axis.tick_params(which="minor", direction="in", top=True, right=True, length=2.2, width=0.6)
    for spine in axis.spines.values():
        spine.set_linewidth(1.2)

    axis.set_xlabel("Input Magnitude", fontsize=16.3, labelpad=3)
    axis.set_ylabel("Measured noise", fontsize=16)
    axis.yaxis.set_label_coords(-0.0765, 0.3755)
    figure.text(0.0587, 0.664, r"$(\mathrm{ppm}\cdot\mathrm{hr}^{-1/2})$", fontsize=14.4, rotation=90,
                ha="center", va="baseline", rotation_mode="anchor")

    legend = axis.legend(loc="upper left", bbox_to_anchor=(0.0155, 0.98), borderaxespad=0, numpoints=2,
                         fontsize=11.7, borderpad=0.75, labelspacing=0.98, handlelength=2.55, handletextpad=1.25,
                         fancybox=False, framealpha=1, edgecolor="k",
                         shadow={"color": "0.3", "alpha": 1})
    legend.get_frame().set_linewidth(1.2)
    label_colours = ["k", "r", "g", "b", "m"]
    for text, colour in zip(legend.get_texts(), label_colours):
        text.set_color(colour)

    figure.savefig("out.png", dpi=200)
    plt.close(figure)
